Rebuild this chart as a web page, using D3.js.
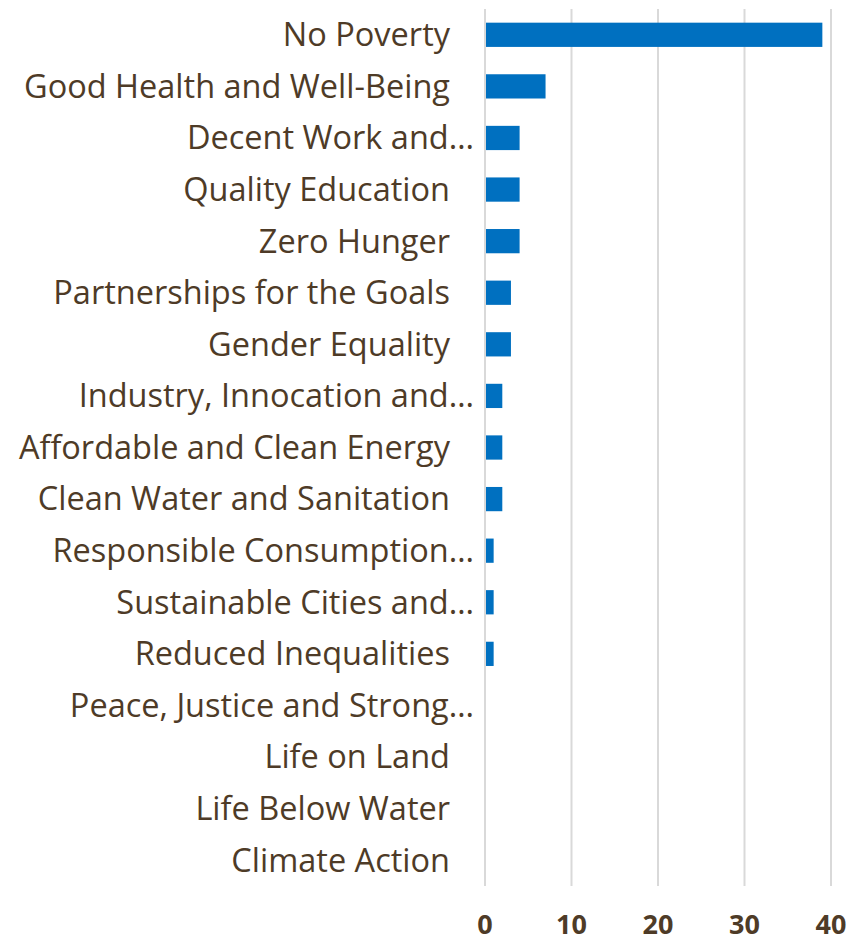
<!DOCTYPE html>
<html>
<head>
<meta charset="utf-8">
<script src="https://cdn.jsdelivr.net/npm/d3@7"></script>
<style>
  body { margin: 0; background: #fff; }
  svg text { font-family: "Open Sans", "Noto Sans", sans-serif; fill: #4e3b27; }
</style>
</head>
<body>
<div id="chart"></div>
<script>
const goals = [
    "No Poverty",
    "Good Health and Well-Being",
    "Decent Work and…",
    "Quality Education",
    "Zero Hunger",
    "Partnerships for the Goals",
    "Gender Equality",
    "Industry, Innocation and…",
    "Affordable and Clean Energy",
    "Clean Water and Sanitation",
    "Responsible Consumption…",
    "Sustainable Cities and…",
    "Reduced Inequalities",
    "Peace, Justice and Strong…",
    "Life on Land",
    "Life Below Water",
    "Climate Action"
];
const counts = [39, 7, 4, 4, 4, 3, 3, 2, 2, 2, 1, 1, 1, 0, 0, 0, 0];
const xTicks = [0, 10, 20, 30, 40];

document.addEventListener('DOMContentLoaded', function() {
    const width = 854, height = 943;
    const plot = { left: 485, right: 831, top: 9, bottom: 886 };

    const svg = d3.select("#chart")
        .append("svg")
        .attr("width", width)
        .attr("height", height);

    const x = d3.scaleLinear().domain([0, 40]).range([plot.left, plot.right]);
    const y = d3.scaleBand().domain(goals).range([plot.top, plot.bottom]).padding(0);
    const barH = y.bandwidth() * 0.47;

    // vertical gridlines
    svg.append("g")
        .selectAll("line")
        .data(xTicks)
        .enter().append("line")
        .attr("x1", d => x(d))
        .attr("x2", d => x(d))
        .attr("y1", plot.top)
        .attr("y2", plot.bottom)
        .attr("stroke", "#d9d9d9")
        .attr("stroke-width", 2);

    svg.append("g")
        .selectAll("rect")
        .data(goals)
        .enter().append("rect")
        .attr("x", x(0) + 1)
        .attr("y", d => y(d) + (y.bandwidth() - barH) / 2)
        .attr("width", (d, i) => Math.max(0, x(counts[i]) - x(0) - 1))
        .attr("height", barH)
        .attr("fill", "#0070c0");

    // category labels
    svg.append("g")
        .selectAll("text")
        .data(goals)
        .enter().append("text")
        .attr("x", d => d.endsWith("…") ? 474 : 450)
        .attr("y", d => y(d) + y.bandwidth() / 2)
        .attr("dy", "0.35em")
        .attr("text-anchor", "end")
        .style("font-size", "32.5px")
        .text(d => d);

    // x tick labels
    svg.append("g")
        .selectAll("text")
        .data(xTicks)
        .enter().append("text")
        .attr("x", d => x(d))
        .attr("y", 925)
        .attr("dy", "0.35em")
        .attr("text-anchor", "middle")
        .style("font-size", "27px")
        .style("font-weight", "bold")
        .text(d => d);
});
</script>
</body>
</html>
